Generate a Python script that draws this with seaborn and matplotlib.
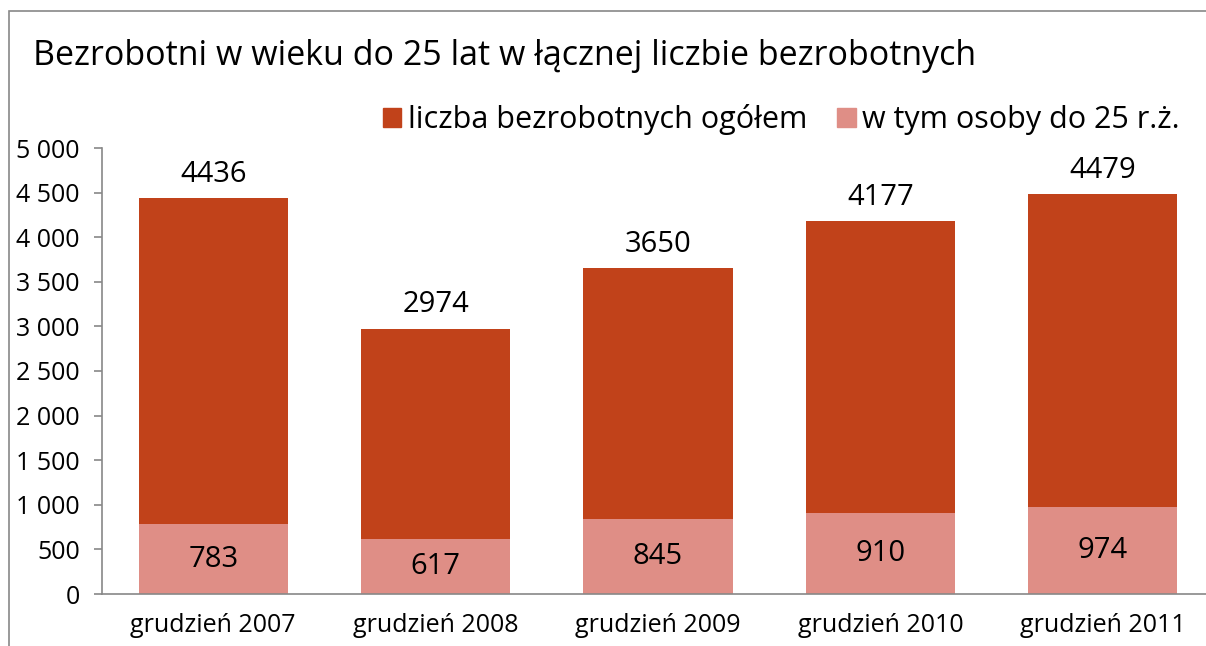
import numpy as np
import pandas as pd
import seaborn as sns
import matplotlib.pyplot as plt
from matplotlib.patches import Rectangle, Patch

# chart data
categories = ["grudzień 2007", "grudzień 2008", "grudzień 2009", "grudzień 2010", "grudzień 2011"]
total_unemployed = [4436, 2974, 3650, 4177, 4479]
under_25 = [783, 617, 845, 910, 974]
series_names = ["liczba bezrobotnych ogółem", "w tym osoby do 25 r.ż."]
title = "Bezrobotni w wieku do 25 lat w łącznej liczbie bezrobotnych"

dark = "#C1421A"
light = "#DF8E86"

sns.set_style("white")
plt.rcParams['font.family'] = ['Open Sans', 'DejaVu Sans']
plt.rcParams['text.color'] = 'black'
plt.rcParams['xtick.color'] = 'black'
plt.rcParams['ytick.color'] = 'black'

df = pd.DataFrame({"cat": categories, "total": total_unemployed, "young": under_25})

fig = plt.figure(figsize=(12.06, 6.46), dpi=100)
ax = fig.add_axes([102 / 1206, 1 - 594 / 646, 1112 / 1206, (594 - 148) / 646])

# total bars behind, under-25 bars in front
sns.barplot(data=df, x="cat", y="total", color=dark, width=0.67, saturation=1, linewidth=0, ax=ax)
sns.barplot(data=df, x="cat", y="young", color=light, width=0.67, saturation=1, linewidth=0, ax=ax)

for i, (t, y) in enumerate(zip(total_unemployed, under_25)):
    ax.annotate(str(t), (i, t), xytext=(0, 7), textcoords="offset points",
                ha="center", va="bottom", fontsize=21)
    ax.text(i, y / 2, str(y), ha="center", va="center", fontsize=21)

ax.set_xlim(-0.5, 4.5)
ax.set_ylim(0, 5000)
ax.set_yticks(np.arange(0, 5001, 500))
ax.set_yticklabels([f"{v:,}".replace(",", " ") for v in range(0, 5001, 500)])
ax.set_xlabel("")
ax.set_ylabel("")

# category boundaries as tick marks, labels without ticks
ax.set_xticks(np.arange(-0.5, 5, 1), minor=True)
ax.tick_params(axis="x", which="major", length=0, labelsize=18, pad=14)
ax.tick_params(axis="x", which="minor", length=7, color="#888888", width=1.2, direction="out")
ax.tick_params(axis="y", length=6, color="#888888", width=1.2, labelsize=18, pad=10, left=True)

for s in ["top", "right"]:
    ax.spines[s].set_visible(False)
for s in ["left", "bottom"]:
    ax.spines[s].set_color("#888888")
    ax.spines[s].set_linewidth(1.2)

handles = [Patch(color=dark), Patch(color=light)]
ax.legend(handles, series_names, ncol=2, loc="center right", bbox_to_anchor=(0.98, 1.063),
          frameon=False, fontsize=22, handlelength=0.6, handleheight=0.6,
          handletextpad=0.2, columnspacing=1.0, borderaxespad=0)

fig.text(33 / 1206, 1 - 56 / 646, title, fontsize=24.5, va="center", ha="left")

# outer chart frame
fig.patches.append(Rectangle((9 / 1206, -0.1), 1.2, 1.1 - 11 / 646, transform=fig.transFigure,
                             fill=False, edgecolor="#888888", linewidth=1.2))

fig.savefig("out.png", dpi=100)
